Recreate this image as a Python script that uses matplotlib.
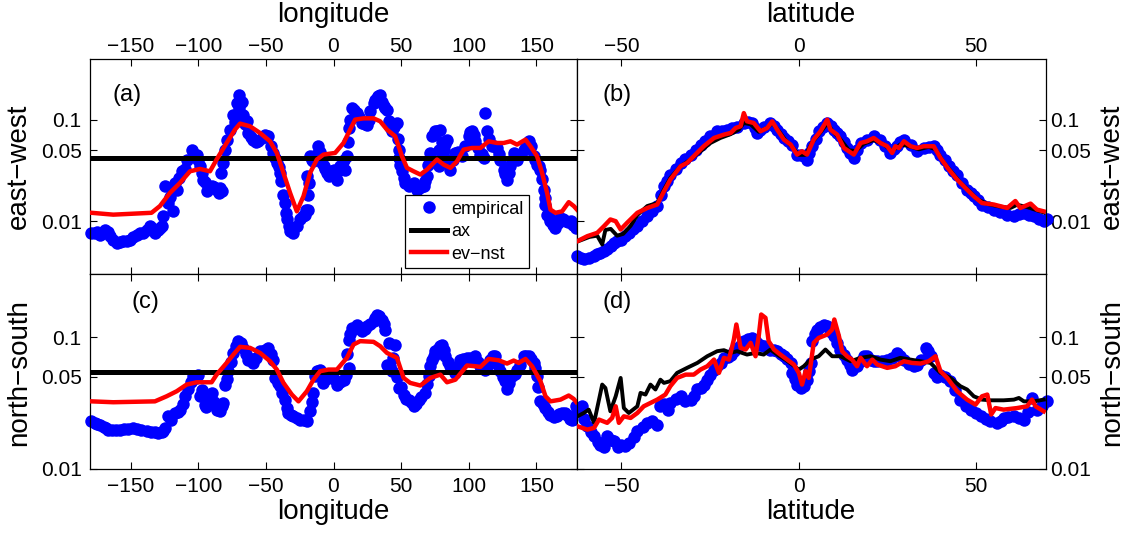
import numpy as np
import matplotlib.pyplot as plt
from matplotlib.ticker import NullLocator

plt.rcParams['font.family'] = ['Liberation Sans', 'DejaVu Sans']
plt.rcParams['axes.unicode_minus'] = True

# ---- east-west correlation vs longitude: (lon, value)
ew_lon_emp = [
    (-178.9, 0.00768), (-176.0, 0.00760), (-174.5, 0.00780), (-172.7, 0.00739), (-169.0, 0.00828),
    (-167.0, 0.00780), (-165.3, 0.00712), (-163.0, 0.00660), (-160.4, 0.00612), (-158.0, 0.00620),
    (-155.4, 0.00636), (-153.0, 0.00640), (-150.5, 0.00660), (-148.0, 0.00700), (-145.6, 0.00739),
    (-143.0, 0.00760), (-140.6, 0.00768), (-138.0, 0.00820), (-135.7, 0.00893), (-134.0, 0.00850),
    (-132.0, 0.00768), (-130.0, 0.00820), (-128.5, 0.00850),
    (-127.1, 0.00893), (-125.8, 0.0112), (-124.6, 0.0221), (-122.1, 0.0151),
    (-121.0, 0.0175), (-119.5, 0.0205), (-118.4, 0.0125), (-117.0, 0.0240), (-115.9, 0.0205),
    (-114.0, 0.0265), (-112.3, 0.0310), (-110.0, 0.0330), (-108.6, 0.0405), (-104.9, 0.0507),
    (-101.2, 0.0453), (-100.0, 0.0400), (-98.7, 0.0348), (-97.5, 0.0300), (-96.2, 0.0257),
    (-95.0, 0.0245), (-93.8, 0.0197), (-92.0, 0.0210), (-90.1, 0.0221), (-88.5, 0.0215),
    (-86.4, 0.0205), (-85.0, 0.0190), (-84.0, 0.0210), (-83.0, 0.0300), (-82.7, 0.0197),
    (-81.4, 0.0375), (-80.0, 0.0500), (-79.0, 0.0636), (-76.5, 0.0798), (-74.0, 0.112),
    (-73.0, 0.095), (-71.6, 0.146), (-70.0, 0.130), (-69.6, 0.176), (-68.0, 0.150),
    (-66.6, 0.112), (-65.5, 0.090), (-64.2, 0.0963), (-62.9, 0.0739), (-61.0, 0.068),
    (-59.2, 0.0636), (-57.0, 0.060), (-55.5, 0.0612), (-53.0, 0.066), (-50.6, 0.0712),
    (-48.1, 0.0686), (-46.0, 0.055), (-44.4, 0.0470), (-43.0, 0.042), (-41.9, 0.0375),
    (-40.5, 0.034), (-39.5, 0.0299), (-38.5, 0.025), (-37.0, 0.0183), (-36.0, 0.015),
    (-35.0, 0.012), (-34.5, 0.0104), (-33.0, 0.009), (-32.1, 0.00798), (-29.6, 0.00768),
    (-27.1, 0.00893), (-24.7, 0.0104), (-22.2, 0.0112), (-21.0, 0.0115), (-20.0, 0.013),
    (-19.7, 0.0277), (-19.0, 0.018), (-18.5, 0.0130), (-18.0, 0.024), (-17.3, 0.0436),
    (-16.0, 0.040), (-14.8, 0.0389), (-13.0, 0.045), (-11.1, 0.0547), (-10.0, 0.048),
    (-8.6, 0.0375), (-7.0, 0.035), (-6.0, 0.033), (-4.9, 0.0299), (-3.0, 0.028),
    (-1.2, 0.0310), (0.0, 0.032), (1.0, 0.028), (2.5, 0.0257), (3.5, 0.031),
    (4.9, 0.0348), (6.0, 0.036), (7.5, 0.040), (8.6, 0.0322), (9.9, 0.0436),
    (10.5, 0.060), (11.1, 0.0828), (12.3, 0.100), (13.6, 0.130), (15.0, 0.125),
    (17.3, 0.116), (19.0, 0.105), (21.0, 0.0927), (23.0, 0.090), (24.7, 0.0893),
    (26.0, 0.100), (27.1, 0.121), (29.6, 0.146), (31.0, 0.155), (32.1, 0.163),
    (33.0, 0.170), (34.5, 0.176), (36.0, 0.150), (37.0, 0.135), (38.0, 0.130),
    (39.5, 0.125), (40.7, 0.0963), (42.0, 0.085), (43.2, 0.0768), (45.0, 0.085),
    (46.9, 0.0927), (47.5, 0.065), (48.1, 0.0507), (48.7, 0.042), (49.3, 0.0361),
    (50.5, 0.031), (51.8, 0.0267), (53.0, 0.024), (55.5, 0.0221), (57.0, 0.0225),
    (59.2, 0.0238), (61.7, 0.0205), (63.0, 0.021), (64.5, 0.0215), (66.6, 0.0221),
    (68.0, 0.025), (69.1, 0.0277), (70.0, 0.036), (71.6, 0.0470), (72.8, 0.0686),
    (74.0, 0.072), (75.3, 0.0768), (76.5, 0.078), (77.7, 0.0348), (78.0, 0.050),
    (79.0, 0.0798), (80.0, 0.060), (81.4, 0.0507), (82.5, 0.058), (83.9, 0.0636),
    (85.0, 0.040), (86.4, 0.0322), (88.0, 0.040), (90.1, 0.0470), (92.0, 0.048),
    (95.0, 0.0436), (97.0, 0.055), (99.9, 0.0686), (101.0, 0.075), (102.4, 0.0768),
    (103.5, 0.070), (104.9, 0.0612), (106.5, 0.052), (108.6, 0.0453), (110.0, 0.046),
    (111.0, 0.0420), (112.3, 0.116), (113.5, 0.0768), (115.0, 0.065), (117.2, 0.0547),
    (119.0, 0.055), (120.9, 0.0526), (122.0, 0.046), (123.4, 0.0405), (125.8, 0.0322),
    (127.0, 0.029), (128.3, 0.0257), (129.5, 0.030), (130.8, 0.0348), (132.0, 0.040),
    (133.2, 0.0470), (135.7, 0.0405), (138.0, 0.045), (140.6, 0.0507), (142.5, 0.055),
    (144.3, 0.0612), (146.0, 0.055), (148.0, 0.0436), (149.0, 0.040), (150.5, 0.0361),
    (152.0, 0.035), (153.0, 0.0322), (154.0, 0.026), (155.4, 0.0205), (156.0, 0.017),
    (156.7, 0.0146), (157.9, 0.0116), (159.0, 0.011), (160.4, 0.0100), (162.0, 0.0092),
    (164.1, 0.00860), (166.0, 0.0095), (167.8, 0.0108), (169.5, 0.0105), (171.5, 0.0100),
    (173.0, 0.0098), (175.2, 0.0100), (177.0, 0.0092), (178.9, 0.00860),
]
ew_lon_ev = [
    (-178.9, 0.0121), (-162.8, 0.0116), (-134.5, 0.0121), (-128.3, 0.0141), (-120.9, 0.0190),
    (-113.5, 0.0238), (-106.1, 0.0310), (-98.7, 0.0327), (-91.3, 0.0310), (-86.4, 0.0405),
    (-79.0, 0.0589), (-72.8, 0.0798), (-69.1, 0.0914), (-61.7, 0.0860), (-54.3, 0.0739),
    (-46.9, 0.0612), (-41.9, 0.0470), (-37.0, 0.0299), (-32.1, 0.0190), (-27.1, 0.0125),
    (-22.2, 0.0176), (-17.3, 0.0299), (-12.3, 0.0405), (-7.4, 0.0453), (1.2, 0.0470),
    (7.4, 0.0589), (12.3, 0.0798), (16.0, 0.100), (22.2, 0.103), (29.6, 0.103),
    (34.5, 0.0963), (39.5, 0.0798), (45.6, 0.0686), (50.6, 0.0436), (54.3, 0.0335),
    (59.2, 0.0310), (64.2, 0.0288), (69.1, 0.0322), (76.5, 0.0405), (81.4, 0.0361),
    (86.4, 0.0335), (91.3, 0.0389), (96.2, 0.0507), (102.4, 0.0526), (108.6, 0.0526),
    (114.7, 0.0612), (120.9, 0.0589), (125.8, 0.0589), (130.8, 0.0612), (135.7, 0.0568),
    (141.9, 0.0636), (145.6, 0.0547), (150.5, 0.0436), (154.2, 0.0299), (157.9, 0.0190),
    (160.4, 0.0130), (164.1, 0.0121), (169.0, 0.0125), (173.9, 0.0154), (177.6, 0.0141),
    (180.0, 0.0130),
]
ew_lon_ax = [(-180, 0.042), (180, 0.042)]

# ---- north-south correlation vs longitude
ns_lon_emp = [
    (-178.9, 0.0230), (-176.0, 0.0222), (-175.0, 0.0220), (-172.7, 0.0217), (-170.0, 0.0210),
    (-168.0, 0.0203), (-166.5, 0.0199), (-164.0, 0.0198), (-161.0, 0.0199), (-157.9, 0.0199),
    (-155.0, 0.0200), (-152.0, 0.0201), (-148.0, 0.0205), (-145.0, 0.0200), (-142.0, 0.0197),
    (-138.2, 0.0193), (-135.0, 0.0192), (-132.0, 0.0190), (-129.5, 0.0188), (-127.0, 0.0190),
    (-126.0, 0.0195),
    (-124.6, 0.0205), (-122.1, 0.0251), (-120.0, 0.0235),
    (-117.2, 0.0266), (-115.0, 0.027), (-113.5, 0.0282), (-111.5, 0.031), (-109.8, 0.0356),
    (-107.3, 0.0401), (-105.5, 0.046), (-103.6, 0.0506), (-101.5, 0.049), (-99.9, 0.0520),
    (-98.7, 0.0356), (-97.0, 0.040), (-95.0, 0.0308), (-94.0, 0.0295), (-92.5, 0.0336),
    (-90.1, 0.0378), (-88.0, 0.032), (-86.4, 0.0282), (-85.0, 0.028), (-83.9, 0.0274),
    (-82.5, 0.030), (-81.4, 0.0317), (-80.2, 0.0437), (-79.0, 0.048), (-77.7, 0.0552),
    (-76.0, 0.065), (-74.0, 0.0760), (-72.0, 0.085), (-70.3, 0.0933), (-68.5, 0.090),
    (-66.6, 0.0830), (-65.0, 0.075), (-62.9, 0.0676), (-61.0, 0.068), (-59.2, 0.0638),
    (-57.0, 0.070), (-54.3, 0.0783), (-51.0, 0.080), (-48.1, 0.0830), (-46.0, 0.075),
    (-44.4, 0.0676), (-43.2, 0.0491), (-41.0, 0.045), (-39.5, 0.0425), (-38.0, 0.038),
    (-35.8, 0.0336), (-34.5, 0.029), (-33.3, 0.0266), (-31.5, 0.0255), (-29.6, 0.0251),
    (-27.0, 0.0245), (-24.7, 0.0237), (-22.0, 0.0235), (-19.7, 0.0230), (-17.3, 0.0274),
    (-16.0, 0.032), (-14.8, 0.0378), (-13.6, 0.0506), (-12.0, 0.055), (-9.9, 0.0568),
    (-7.4, 0.0450), (-5.5, 0.048), (-3.7, 0.0506), (0.0, 0.048), (2.5, 0.0437),
    (5.0, 0.046), (7.4, 0.0476), (9.5, 0.052), (10.0, 0.075), (11.1, 0.0585),
    (11.1, 0.0960), (12.0, 0.105), (13.6, 0.1177), (15.5, 0.115), (17.3, 0.1248),
    (19.0, 0.120), (21.0, 0.1111), (23.0, 0.115), (24.7, 0.1213), (27.0, 0.125),
    (29.6, 0.1324), (31.0, 0.140), (32.1, 0.1486), (34.0, 0.145), (35.8, 0.1362),
    (37.0, 0.125), (38.2, 0.1143), (39.5, 0.0620), (40.7, 0.0906), (41.5, 0.060),
    (43.2, 0.0552), (44.0, 0.070), (45.6, 0.0880), (47.0, 0.050), (48.1, 0.0412),
    (50.0, 0.042), (51.8, 0.0367), (53.5, 0.034), (55.5, 0.0336), (57.0, 0.032),
    (59.2, 0.0299), (61.0, 0.031), (62.9, 0.0336), (65.0, 0.035), (67.9, 0.0378),
    (69.0, 0.044), (70.3, 0.0506), (71.5, 0.060), (72.8, 0.0676), (74.0, 0.072),
    (75.3, 0.0783), (77.0, 0.082), (79.0, 0.085), (80.2, 0.0880), (81.5, 0.080),
    (82.7, 0.0717), (84.5, 0.065), (86.4, 0.0602), (88.0, 0.058), (90.1, 0.0536),
    (92.0, 0.058), (93.8, 0.0676), (96.0, 0.068), (98.7, 0.0697), (101.0, 0.070),
    (104.9, 0.0717), (107.0, 0.065), (108.6, 0.0602), (110.5, 0.058), (112.3, 0.0568),
    (114.0, 0.062), (116.0, 0.0676), (118.0, 0.072), (119.7, 0.0717), (121.5, 0.062),
    (123.4, 0.0552), (125.0, 0.050), (127.1, 0.0464), (128.3, 0.0401), (130.0, 0.045),
    (132.0, 0.0506), (134.0, 0.053), (135.7, 0.0568), (138.0, 0.062), (140.6, 0.0717),
    (142.5, 0.072), (144.3, 0.0717), (146.0, 0.068), (148.0, 0.0638), (149.0, 0.058),
    (150.5, 0.0506), (151.5, 0.042), (153.0, 0.0326), (154.5, 0.031), (156.7, 0.0290),
    (158.5, 0.027), (160.4, 0.0259), (163.0, 0.025), (165.3, 0.0251), (167.0, 0.026),
    (169.0, 0.0266), (171.0, 0.0265), (172.7, 0.0259), (174.5, 0.024), (176.4, 0.0237),
    (177.5, 0.024), (178.9, 0.0299),
]
ns_lon_ev = [
    (-178.9, 0.0326), (-162.8, 0.0321), (-132.0, 0.0326), (-123.4, 0.0356), (-115.9, 0.0389),
    (-108.6, 0.0437), (-101.2, 0.0455), (-90.1, 0.0455), (-86.4, 0.0520), (-79.0, 0.0638),
    (-74.0, 0.0738), (-69.1, 0.0845), (-61.7, 0.0830), (-54.3, 0.0760), (-46.9, 0.0657),
    (-41.9, 0.0568), (-37.0, 0.0450), (-30.8, 0.0367), (-25.9, 0.0326), (-19.7, 0.0389),
    (-14.8, 0.0476), (-9.9, 0.0552), (-3.7, 0.0568), (2.5, 0.0568), (9.9, 0.0697),
    (14.8, 0.0880), (19.7, 0.0933), (29.6, 0.0922), (34.5, 0.0855), (39.5, 0.0760),
    (46.9, 0.0697), (51.8, 0.0491), (56.7, 0.0450), (64.2, 0.0430), (71.6, 0.0491),
    (79.0, 0.0520), (83.9, 0.0455), (90.1, 0.0476), (98.7, 0.0610), (104.9, 0.0602),
    (108.6, 0.0595), (114.7, 0.0684), (122.1, 0.0668), (128.3, 0.0631), (133.2, 0.0665),
    (136.9, 0.0638), (141.9, 0.0684), (146.8, 0.0602), (153.0, 0.0464), (156.7, 0.0356),
    (160.4, 0.0326), (167.8, 0.0336), (173.9, 0.0361), (177.6, 0.0340), (180.0, 0.0317),
]
ns_lon_ax = [(-180, 0.0542), (180, 0.0542)]

# ---- east-west correlation vs latitude: (lat, value)
ew_lat_emp = [
    (-62.4, 0.00454), (-61.5, 0.00430), (-60.6, 0.00421), (-59.2, 0.00430), (-57.7, 0.00454),
    (-56.8, 0.00470), (-55.9, 0.00490), (-55.0, 0.00510), (-54.0, 0.00527), (-53.0, 0.00570),
    (-52.1, 0.00612), (-51.2, 0.00635), (-50.2, 0.00660), (-49.0, 0.00710), (-47.9, 0.00768),
    (-46.7, 0.00830), (-45.5, 0.00893), (-44.1, 0.0100), (-42.7, 0.0112), (-41.3, 0.0125),
    (-39.9, 0.0141), (-38.9, 0.0180), (-38.0, 0.0221), (-37.1, 0.0250), (-36.2, 0.0288),
    (-34.7, 0.0330), (-33.3, 0.0375), (-32.0, 0.0410), (-30.5, 0.0453), (-29.0, 0.0500),
    (-27.7, 0.0568), (-26.3, 0.0620), (-24.9, 0.0686), (-23.0, 0.0768), (-21.6, 0.0780),
    (-20.2, 0.0798), (-18.8, 0.0820), (-17.4, 0.0847), (-15.5, 0.0927), (-14.3, 0.0940),
    (-13.1, 0.0927), (-12.4, 0.0820), (-11.7, 0.0739), (-10.8, 0.0790), (-9.9, 0.0847),
    (-8.0, 0.0927), (-7.0, 0.0860), (-6.1, 0.0798), (-5.1, 0.0720), (-4.2, 0.0660),
    (-3.0, 0.0610), (-1.9, 0.0568), (-0.5, 0.0453), (0.5, 0.0450), (1.4, 0.0436),
    (2.3, 0.0405), (3.0, 0.0470), (3.8, 0.0547), (4.7, 0.0650), (5.6, 0.0768),
    (6.8, 0.0850), (8.0, 0.0927), (9.0, 0.0860), (9.9, 0.0798), (10.8, 0.0740),
    (11.7, 0.0686), (12.7, 0.0600), (13.6, 0.0526), (14.5, 0.0470), (15.5, 0.0420),
    (16.4, 0.0500), (17.4, 0.0589), (19.2, 0.0636), (21.1, 0.0686), (23.0, 0.0636),
    (24.4, 0.0550), (25.8, 0.0470), (26.8, 0.0510), (27.7, 0.0547), (28.6, 0.0600),
    (29.6, 0.0636), (31.5, 0.0568), (33.3, 0.0488), (35.2, 0.0526), (36.6, 0.0540),
    (38.0, 0.0547), (39.0, 0.0500), (39.9, 0.0453), (41.1, 0.0400), (42.3, 0.0348),
    (43.5, 0.0315), (44.6, 0.0288), (46.0, 0.0240), (47.4, 0.0205), (48.4, 0.0190),
    (49.3, 0.0176), (50.5, 0.0160), (51.6, 0.0146), (53.2, 0.0138), (54.9, 0.0130),
    (56.8, 0.0122), (58.7, 0.0116), (60.6, 0.0112), (62.0, 0.0118), (63.4, 0.0121),
    (64.8, 0.0116), (66.2, 0.0112), (67.6, 0.0106), (69.0, 0.0100), (70.0, 0.0104),
]
ew_lat_ax = [
    (-62.4, 0.0063), (-59.0, 0.0070), (-56.8, 0.0072), (-55.4, 0.0059), (-54.5, 0.0082),
    (-53.0, 0.0084), (-51.2, 0.0072), (-49.5, 0.0075), (-47.4, 0.0090), (-45.5, 0.0115),
    (-42.7, 0.0141), (-39.9, 0.0151), (-38.0, 0.0205), (-36.2, 0.0267), (-33.3, 0.0348),
    (-30.5, 0.0405), (-27.7, 0.0488), (-24.9, 0.0589), (-22.1, 0.0660), (-19.2, 0.0720),
    (-16.9, 0.0798), (-15.5, 0.0927), (-13.6, 0.0900), (-11.3, 0.0760), (-8.9, 0.0828),
    (-7.5, 0.0930), (-5.6, 0.0770), (-3.8, 0.0630), (-1.9, 0.0540), (0.0, 0.0450),
    (1.9, 0.0450), (3.8, 0.0600), (6.1, 0.0750), (8.0, 0.0920), (9.4, 0.0780),
    (11.7, 0.0640), (14.1, 0.0500), (16.0, 0.0490), (18.3, 0.0580), (21.1, 0.0630),
    (23.9, 0.0570), (26.3, 0.0490), (28.6, 0.0570), (31.0, 0.0550), (33.8, 0.0510),
    (36.6, 0.0540), (38.5, 0.0510), (40.8, 0.0380), (43.2, 0.0300), (45.5, 0.0240),
    (47.9, 0.0200), (50.2, 0.0165), (53.1, 0.0148), (56.3, 0.0140), (59.6, 0.0135),
    (61.5, 0.0145), (64.3, 0.0138), (67.1, 0.0128), (69.0, 0.0122),
]
ew_lat_ev = [
    (-62.4, 0.00636), (-59.6, 0.00712), (-56.8, 0.00768), (-54.9, 0.00893), (-53.1, 0.0104),
    (-51.6, 0.0100), (-50.2, 0.00828), (-48.4, 0.00963), (-45.5, 0.0121), (-42.7, 0.0135),
    (-39.9, 0.0146), (-38.0, 0.0197), (-36.2, 0.0257), (-33.3, 0.0348), (-31.5, 0.0375),
    (-29.6, 0.0436), (-26.8, 0.0547), (-23.9, 0.0660), (-21.1, 0.0712), (-19.2, 0.0739),
    (-17.8, 0.0828), (-16.4, 0.0860), (-15.5, 0.116), (-14.6, 0.0963), (-12.7, 0.0927),
    (-10.8, 0.0768), (-8.9, 0.0828), (-7.5, 0.0963), (-6.1, 0.0798), (-4.2, 0.0636),
    (-2.3, 0.0568), (-0.5, 0.0453), (0.9, 0.0488), (2.3, 0.0453), (4.2, 0.0636),
    (6.1, 0.0768), (8.0, 0.100), (8.9, 0.0798), (10.8, 0.0712), (12.7, 0.0526),
    (15.5, 0.0453), (17.4, 0.0589), (19.2, 0.0612), (21.1, 0.0660), (23.0, 0.0589),
    (24.9, 0.0547), (26.3, 0.0470), (27.2, 0.0547), (28.2, 0.0526), (29.6, 0.0612),
    (31.5, 0.0547), (33.3, 0.0526), (35.2, 0.0547), (38.0, 0.0547), (39.9, 0.0420),
    (42.3, 0.0322), (44.6, 0.0257), (46.9, 0.0213), (49.3, 0.0176), (51.6, 0.0151),
    (54.9, 0.0146), (58.7, 0.0135), (61.0, 0.0158), (62.4, 0.0135), (65.3, 0.0149),
    (67.1, 0.0130), (69.0, 0.0125),
]

# ---- north-south correlation vs latitude
ns_lat_emp = [
    (-62.4, 0.0274), (-61.0, 0.0299), (-60.5, 0.0240), (-59.6, 0.0211), (-58.5, 0.0190),
    (-57.7, 0.0177), (-56.5, 0.0160), (-55.9, 0.0153), (-55.0, 0.0148), (-54.0, 0.0177),
    (-53.0, 0.0165), (-52.1, 0.0162), (-51.0, 0.0148), (-50.2, 0.0153), (-49.0, 0.0150),
    (-47.9, 0.0158), (-46.5, 0.0175), (-45.5, 0.0193), (-44.0, 0.0210), (-42.7, 0.0224),
    (-41.5, 0.0230), (-39.9, 0.0217), (-39.0, 0.0299), (-38.0, 0.0310), (-37.0, 0.0280),
    (-36.2, 0.0317), (-34.5, 0.0340), (-33.3, 0.0356), (-32.0, 0.0330), (-30.5, 0.0336),
    (-29.5, 0.0360), (-28.6, 0.0401), (-27.5, 0.0410), (-26.8, 0.0437), (-25.8, 0.0470),
    (-24.9, 0.0520), (-24.0, 0.0560), (-23.0, 0.0602), (-22.0, 0.0640), (-21.1, 0.0697),
    (-20.0, 0.0710), (-19.2, 0.0738), (-18.3, 0.0780), (-17.4, 0.0830), (-16.4, 0.0880),
    (-15.5, 0.0933), (-14.3, 0.0970), (-13.1, 0.0988), (-12.4, 0.0950), (-11.7, 0.0906),
    (-10.8, 0.0880), (-9.9, 0.0855), (-9.0, 0.0840), (-8.0, 0.0806), (-7.0, 0.0800),
    (-6.1, 0.0783), (-5.1, 0.0750), (-4.2, 0.0717), (-3.2, 0.0680), (-2.3, 0.0638),
    (-1.9, 0.0536), (-1.2, 0.0480), (-0.5, 0.0437), (0.5, 0.0412), (1.4, 0.0430),
    (2.3, 0.0476), (2.8, 0.0550), (3.3, 0.0638), (3.8, 0.0933), (4.5, 0.105),
    (5.2, 0.1143), (6.0, 0.120), (7.0, 0.1248), (7.8, 0.122), (8.5, 0.1177),
    (9.2, 0.110), (9.9, 0.1018), (10.8, 0.0900), (11.7, 0.0806), (12.7, 0.0730),
    (13.6, 0.0676), (14.3, 0.0610), (15.0, 0.0568), (16.4, 0.0602), (17.4, 0.0660),
    (18.3, 0.0717), (19.2, 0.0720), (20.2, 0.0676), (21.1, 0.0660), (22.1, 0.0657),
    (23.5, 0.0660), (24.9, 0.0676), (26.3, 0.0700), (27.7, 0.0760), (28.6, 0.0720),
    (29.6, 0.0676), (31.0, 0.0630), (32.4, 0.0602), (33.3, 0.0620), (34.3, 0.0676),
    (35.7, 0.0830), (36.4, 0.0780), (37.1, 0.0717), (38.0, 0.0536), (38.9, 0.0500),
    (39.9, 0.0520), (41.3, 0.0500), (42.7, 0.0464), (44.0, 0.0400), (45.5, 0.0336),
    (47.0, 0.0300), (48.4, 0.0282), (49.8, 0.0265), (51.2, 0.0251), (52.6, 0.0240),
    (54.0, 0.0230), (55.9, 0.0224), (57.0, 0.0230), (57.7, 0.0244), (59.0, 0.0248),
    (60.6, 0.0251), (62.0, 0.0245), (63.4, 0.0237), (64.5, 0.0270), (65.7, 0.0346),
    (67.1, 0.0282), (68.5, 0.0300), (70.0, 0.0326),
]
ns_lat_ax = [
    (-62.4, 0.0251), (-60.6, 0.0266), (-59.2, 0.0282), (-57.7, 0.0224), (-56.3, 0.0336),
    (-55.4, 0.0437), (-54.5, 0.0412), (-53.1, 0.0274), (-51.6, 0.0356), (-50.2, 0.0491),
    (-49.3, 0.0290), (-47.9, 0.0266), (-45.5, 0.0299), (-44.6, 0.0378), (-43.2, 0.0367),
    (-41.8, 0.0437), (-40.4, 0.0401), (-39.0, 0.0476), (-38.0, 0.0450), (-36.2, 0.0464),
    (-34.3, 0.0536), (-31.5, 0.0585), (-28.6, 0.0638), (-25.8, 0.0717), (-23.0, 0.0783),
    (-21.1, 0.0797), (-19.2, 0.0760), (-17.4, 0.0783), (-14.6, 0.0738), (-12.2, 0.0760),
    (-9.9, 0.0738), (-8.0, 0.0806), (-6.1, 0.0738), (-3.8, 0.0676), (-1.9, 0.0620),
    (0.0, 0.0568), (1.4, 0.0602), (3.3, 0.0676), (5.6, 0.0717), (7.5, 0.0806),
    (9.4, 0.0717), (11.7, 0.0717), (14.6, 0.0657), (17.4, 0.0697), (20.2, 0.0717),
    (23.0, 0.0676), (25.8, 0.0657), (28.6, 0.0697), (31.5, 0.0676), (34.3, 0.0657),
    (37.1, 0.0638), (39.9, 0.0536), (42.7, 0.0491), (45.5, 0.0425), (47.4, 0.0401),
    (49.3, 0.0356), (51.6, 0.0336), (54.0, 0.0332), (57.7, 0.0332), (60.6, 0.0336),
    (62.0, 0.0346), (63.4, 0.0326), (66.2, 0.0326), (69.0, 0.0336),
]
ns_lat_ev = [
    (-62.4, 0.0211), (-59.6, 0.0199), (-57.7, 0.0205), (-56.3, 0.0237), (-54.0, 0.0224),
    (-52.6, 0.0244), (-51.6, 0.0299), (-50.7, 0.0224), (-49.3, 0.0251), (-47.4, 0.0244),
    (-45.5, 0.0266), (-43.7, 0.0299), (-41.8, 0.0317), (-39.9, 0.0336), (-37.6, 0.0367),
    (-36.2, 0.0425), (-34.3, 0.0491), (-31.9, 0.0520), (-29.6, 0.0520), (-27.7, 0.0568),
    (-25.8, 0.0602), (-23.9, 0.0676), (-22.5, 0.0536), (-21.1, 0.0697), (-19.7, 0.0676),
    (-18.3, 0.0960), (-17.6, 0.1248), (-16.4, 0.0830), (-15.0, 0.0806), (-13.6, 0.0906),
    (-12.2, 0.0717), (-11.3, 0.1018), (-10.6, 0.1486), (-9.4, 0.1402), (-8.5, 0.0933),
    (-7.0, 0.0806), (-5.2, 0.0738), (-3.3, 0.0676), (-1.4, 0.0620), (0.0, 0.0536),
    (0.9, 0.0437), (1.9, 0.0552), (2.8, 0.0491), (4.2, 0.0906), (5.6, 0.0988),
    (8.0, 0.1048), (9.4, 0.1143), (10.0, 0.1362), (11.3, 0.1018), (12.2, 0.0783),
    (13.6, 0.0717), (15.0, 0.0676), (16.4, 0.0602), (17.4, 0.0697), (19.2, 0.0602),
    (20.7, 0.0676), (22.1, 0.0620), (24.9, 0.0585), (27.2, 0.0602), (29.6, 0.0657),
    (31.9, 0.0638), (34.3, 0.0631), (36.6, 0.0657), (38.5, 0.0717), (39.9, 0.0552),
    (41.8, 0.0491), (44.6, 0.0389), (47.4, 0.0336), (49.8, 0.0308), (51.6, 0.0356),
    (53.1, 0.0367), (54.2, 0.0259), (55.4, 0.0290), (57.7, 0.0282), (61.5, 0.0290),
    (64.3, 0.0299), (65.7, 0.0336), (66.7, 0.0299), (69.0, 0.0274),
]

yticks = [0.01, 0.05, 0.1]
ytick_labels = ['0.01', '0.05', '0.1']
lon_ticks = [-150, -100, -50, 0, 50, 100, 150]
lat_ticks = [-50, 0, 50]

BLUE = '#0000ff'
RED = '#ff0000'


def xy(pairs):
    arr = np.array(pairs, dtype=float)
    return arr[:, 0], arr[:, 1]


def style_axis(ax, top_row, left_col):
    ax.set_yscale('log')
    ax.set_yticks(yticks)
    ax.set_yticklabels(ytick_labels)
    ax.yaxis.set_minor_locator(NullLocator())
    ax.xaxis.set_minor_locator(NullLocator())
    ax.tick_params(which='both', direction='in', length=5, width=0.8,
                   top=True, bottom=True, left=True, right=True, labelsize=15,
                   labeltop=top_row, labelbottom=not top_row,
                   labelleft=left_col, labelright=not left_col)
    ax.tick_params(axis='x', pad=2 if top_row else 6)
    ax.tick_params(axis='y', pad=6 if left_col else 3)
    for sp in ax.spines.values():
        sp.set_linewidth(0.9)


def draw_panel(ax, emp, ax_line, ev, ax_lw):
    x, y = xy(emp)
    h_emp, = ax.plot(x, y, 'o', color=BLUE, ms=9, mec=BLUE, mew=0,
                     clip_on=False, zorder=2, label='empirical')
    x, y = xy(ax_line)
    h_ax, = ax.plot(x, y, '-', color='black', lw=ax_lw, zorder=3, label='ax')
    x, y = xy(ev)
    h_ev, = ax.plot(x, y, '-', color=RED, lw=3.2, zorder=4, label='ev\u2212nst')
    return h_emp, h_ax, h_ev


def main():
    fig = plt.figure(figsize=(11.3, 5.33), dpi=100)

    left_x, left_w = 90 / 1130, 487 / 1130
    right_x, right_w = 577 / 1130, 468.5 / 1130
    top_y, top_h = 1 - 274.3 / 533, 215.8 / 533
    bot_y, bot_h = 1 - 469 / 533, 194.7 / 533

    ax_a = fig.add_axes([left_x, top_y, left_w, top_h])
    ax_b = fig.add_axes([right_x, top_y, right_w, top_h])
    ax_c = fig.add_axes([left_x, bot_y, left_w, bot_h])
    ax_d = fig.add_axes([right_x, bot_y, right_w, bot_h])

    handles = draw_panel(ax_a, ew_lon_emp, ew_lon_ax, ew_lon_ev, 3.6)
    draw_panel(ax_b, ew_lat_emp, ew_lat_ax, ew_lat_ev, 2.8)
    draw_panel(ax_c, ns_lon_emp, ns_lon_ax, ns_lon_ev, 3.6)
    draw_panel(ax_d, ns_lat_emp, ns_lat_ax, ns_lat_ev, 2.8)

    for ax, top, left in [(ax_a, True, True), (ax_b, True, False),
                          (ax_c, False, True), (ax_d, False, False)]:
        style_axis(ax, top, left)

    for ax in (ax_a, ax_c):
        ax.set_xlim(-180, 180)
        ax.set_xticks(lon_ticks)
    for ax in (ax_b, ax_d):
        ax.set_xlim(-62.5, 69.5)
        ax.set_xticks(lat_ticks)
    ax_a.set_ylim(0.003, 0.4)
    ax_b.set_ylim(0.003, 0.4)
    ax_c.set_ylim(0.01, 0.3)
    ax_d.set_ylim(0.01, 0.3)

    # panel letters
    ax_a.text(0.047, 0.83, '(a)', transform=ax_a.transAxes, fontsize=17, va='center')
    ax_b.text(0.055, 0.83, '(b)', transform=ax_b.transAxes, fontsize=17, va='center')
    ax_c.text(0.086, 0.858, '(c)', transform=ax_c.transAxes, fontsize=17, va='center')
    ax_d.text(0.055, 0.858, '(d)', transform=ax_d.transAxes, fontsize=17, va='center')

    leg = ax_a.legend(handles=handles, loc='lower left', bbox_to_anchor=(0.647, 0.029),
                      fontsize=13, frameon=True, fancybox=False, framealpha=1,
                      edgecolor='black', borderaxespad=0, borderpad=0.3,
                      labelspacing=0.3, handlelength=2.0, handletextpad=0.25,
                      numpoints=1)
    leg.get_frame().set_linewidth(0.9)
    leg.set_zorder(10)

    # axis titles
    lab = dict(fontsize=20, ha='center', va='center')
    fig.text(333.5 / 1130, 1 - 15 / 533, 'longitude', **lab)
    fig.text(811 / 1130, 1 - 15 / 533, 'latitude', **lab)
    fig.text(333.5 / 1130, 1 - 512 / 533, 'longitude', **lab)
    fig.text(811 / 1130, 1 - 512 / 533, 'latitude', **lab)
    fig.text(19 / 1130, 1 - 166 / 533, 'east\u2212west', rotation=90, **lab)
    fig.text(19 / 1130, 1 - 373 / 533, 'north\u2212south', rotation=90, **lab)
    fig.text(1112 / 1130, 1 - 166 / 533, 'east\u2212west', rotation=90, **lab)
    fig.text(1112 / 1130, 1 - 373 / 533, 'north\u2212south', rotation=90, **lab)

    plt.savefig('out.png', dpi=100)


main()
